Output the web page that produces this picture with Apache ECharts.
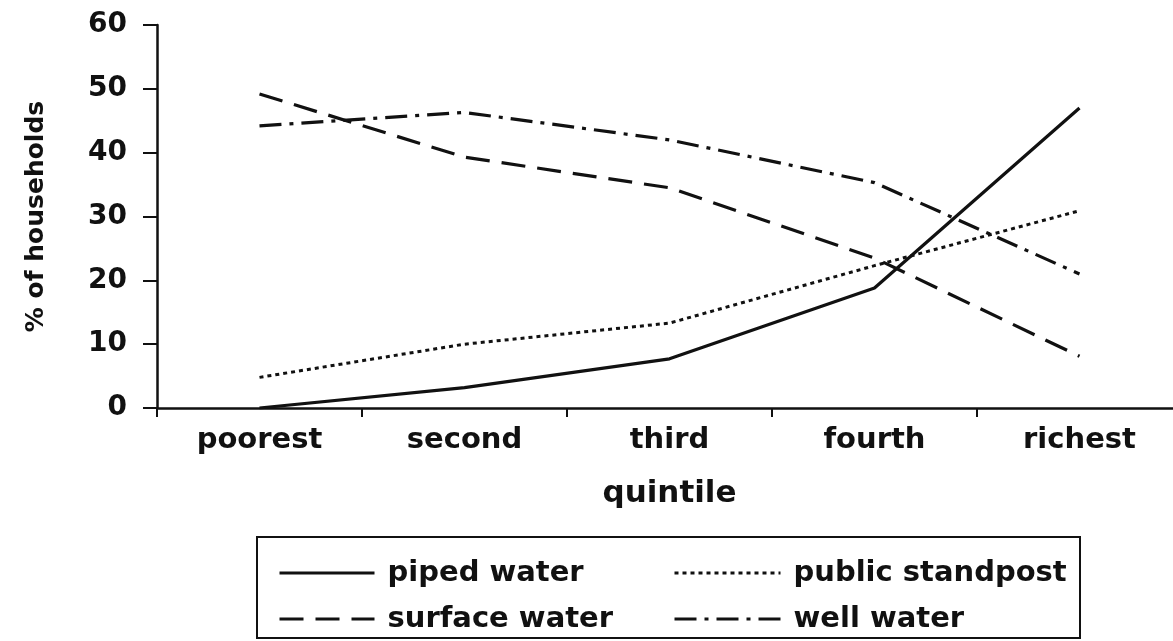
<!DOCTYPE html>
<html>
<head>
<meta charset="utf-8">
<script src="https://cdn.jsdelivr.net/npm/echarts@6/dist/echarts.min.js"></script>
<style>
  html, body { margin: 0; padding: 0; background: #fff; }
  #main { width: 1173px; height: 641px; }
</style>
</head>
<body>
<div id="main"></div>
<script>
const myChart = echarts.init(document.getElementById('main'));

// data
const quintiles = ['poorest', 'second', 'third', 'fourth', 'richest'];
const yTicks = [0, 10, 20, 30, 40, 50, 60];
const pipedWater = [0, 3.2, 7.7, 18.8, 47];
const publicStandpost = [4.8, 10, 13.3, 22.3, 30.9];
const surfaceWater = [49.2, 39.3, 34.5, 23.5, 8.1];
const wellWater = [44.2, 46.3, 42, 35.3, 21];

const font = 'DejaVu Sans';
const ink = '#111';

// one legend per entry so the two columns line up like the printed key
function legendItem(name, left, top, width) {
    return {
        left: left, top: top, orient: 'vertical',
        itemWidth: width, itemHeight: 30,
        itemStyle: { opacity: 0 },
        lineStyle: { width: 3 },
        textStyle: {
            fontFamily: font, fontSize: 29, fontWeight: 'bold', color: ink,
            lineHeight: 30, padding: [0, 0, 0, 8]
        },
        data: [name]
    };
}

option = {
    backgroundColor: '#fff',
    animation: false,
    textStyle: { fontFamily: font, color: ink },
    grid: { left: 157, top: 25, right: -9, height: 383, outerBoundsMode: 'none' },
    xAxis: {
        type: 'category',
        data: quintiles,
        boundaryGap: true,
        name: 'quintile',
        nameLocation: 'middle',
        nameGap: 70,
        nameTextStyle: { fontFamily: font, fontSize: 31, fontWeight: 'bold', color: ink },
        axisLine: { lineStyle: { color: ink, width: 2.5 } },
        axisTick: { show: true, length: 9, lineStyle: { color: ink, width: 2 } },
        axisLabel: { fontFamily: font, fontSize: 29, fontWeight: 'bold', color: ink, margin: 18 },
        splitLine: { show: false }
    },
    yAxis: {
        type: 'value',
        min: yTicks[0],
        max: yTicks[yTicks.length - 1],
        interval: 10,
        name: '% of households',
        nameLocation: 'middle',
        nameGap: 108,
        nameTextStyle: { fontFamily: font, fontSize: 25, fontWeight: 'bold', color: ink },
        axisLine: { show: true, lineStyle: { color: ink, width: 2.5 } },
        axisTick: { show: true, length: 14, lineStyle: { color: ink, width: 2 } },
        axisLabel: { fontFamily: font, fontSize: 28, fontWeight: 'bold', color: ink, margin: 30 },
        splitLine: { show: false }
    },
    legend: [
        legendItem('piped water', 273, 553, 95),
        legendItem('surface water', 273, 599, 95),
        legendItem('public standpost', 668, 553, 106),
        legendItem('well water', 668, 599, 106)
    ],
    graphic: [
        {
            type: 'rect',
            shape: { x: 257, y: 537, width: 823, height: 101 },
            style: { fill: 'none', stroke: ink, lineWidth: 2 }
        }
    ],
    series: [
        {
            name: 'piped water', type: 'line', data: pipedWater,
            symbol: 'none', color: ink,
            lineStyle: { color: ink, width: 3.2, type: 'solid' }
        },
        {
            name: 'public standpost', type: 'line', data: publicStandpost,
            symbol: 'none', color: ink,
            lineStyle: { color: ink, width: 3, type: [4, 4] }
        },
        {
            name: 'surface water', type: 'line', data: surfaceWater,
            symbol: 'none', color: ink,
            lineStyle: { color: ink, width: 3.2, type: [24, 12] }
        },
        {
            name: 'well water', type: 'line', data: wellWater,
            symbol: 'none', color: ink,
            lineStyle: { color: ink, width: 3.2, type: [22, 8, 4, 8] }
        }
    ]
};

myChart.setOption(option);
</script>
</body>
</html>
